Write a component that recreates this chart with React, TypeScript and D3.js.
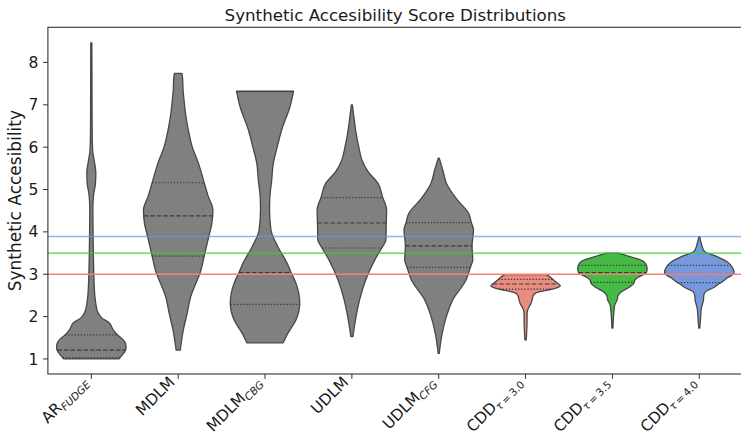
import * as d3 from "d3";

// ── Layout ──────────────────────────────────────────────────────────────
const W = 741;
const H = 435;
const PLOT = { left: 47.9, right: 742.7, top: 27.3, bottom: 374 };
const FONT = "DejaVu Sans, Liberation Sans, sans-serif";
const EDGE = "#474747";

// ── Data ────────────────────────────────────────────────────────────────
const CATEGORIES = ["AR_FUDGE", "MDLM", "MDLM_CBG", "UDLM", "UDLM_CFG", "CDD_3.0", "CDD_3.5", "CDD_4.0"];
const TICK_MAIN = ["AR", "MDLM", "MDLM", "UDLM", "UDLM", "CDD", "CDD", "CDD"];
const TICK_SUB = ["FUDGE", "", "CBG", "", "CFG", "τ\u2009=\u20093.0", "τ\u2009=\u20093.5", "τ\u2009=\u20094.0"];
const Y_TICKS = [1, 2, 3, 4, 5, 6, 7, 8];

// density profiles: [score, relative half-width]
const AR_FUDGE = [
  [1.0, 0.79], [1.1, 0.9], [1.25, 1.0], [1.35, 0.99], [1.45, 0.92], [1.57, 0.75],
  [1.7, 0.62], [1.85, 0.52], [1.97, 0.3], [2.1, 0.19], [2.3, 0.13], [2.5, 0.1],
  [2.9, 0.075], [3.4, 0.06], [4.0, 0.05], [4.6, 0.045], [4.9, 0.07], [5.15, 0.12],
  [5.4, 0.13], [5.65, 0.09], [5.9, 0.04], [6.3, 0.025], [7.2, 0.02], [8.46, 0.015],
];
const MDLM = [
  [1.21, 0.06], [1.69, 0.15], [2.08, 0.26], [2.47, 0.36], [2.75, 0.49], [3.03, 0.63],
  [3.43, 0.75], [3.89, 0.88], [4.2, 0.97], [4.52, 1.0], [4.85, 0.86], [5.16, 0.75],
  [5.63, 0.58], [6.02, 0.4], [6.41, 0.29], [6.8, 0.21], [7.1, 0.17], [7.36, 0.14],
  [7.6, 0.13], [7.74, 0.11],
];
const MDLM_CBG = [
  [1.38, 0.52], [1.61, 0.66], [1.92, 0.89], [2.32, 1.0], [2.79, 0.89], [3.04, 0.75],
  [3.27, 0.63], [3.65, 0.37], [4.05, 0.17], [4.52, 0.13], [4.84, 0.14], [5.2, 0.19],
  [5.63, 0.24], [6.0, 0.35], [6.41, 0.48], [6.96, 0.72], [7.32, 0.82],
];
const UDLM = [
  [1.53, 0.03], [2.0, 0.12], [2.39, 0.22], [2.87, 0.4], [3.34, 0.66], [3.62, 0.86],
  [3.81, 0.98], [4.21, 0.99], [4.52, 1.0], [4.81, 0.89], [5.15, 0.75], [5.43, 0.46],
  [5.7, 0.29], [6.0, 0.2], [6.34, 0.12], [6.7, 0.06], [7.0, 0.015],
];
const UDLM_CFG = [
  [1.13, 0.015], [1.61, 0.1], [2.0, 0.22], [2.39, 0.4], [2.87, 0.79], [3.16, 0.91],
  [3.34, 0.98], [3.67, 0.96], [4.05, 1.0], [4.22, 0.94], [4.44, 0.86], [4.76, 0.53],
  [5.15, 0.22], [5.45, 0.12], [5.74, 0.015],
];
const CDD_30 = [
  [1.45, 0.02], [1.8, 0.04], [2.1, 0.045], [2.2, 0.08], [2.3, 0.15], [2.4, 0.19],
  [2.5, 0.22], [2.56, 0.3], [2.62, 0.6], [2.68, 0.9], [2.73, 1.0], [2.8, 0.9],
  [2.88, 0.78], [2.95, 0.68], [2.99, 0.6],
];
const CDD_35 = [
  [1.73, 0.015], [2.14, 0.045], [2.27, 0.065], [2.39, 0.135], [2.49, 0.16], [2.58, 0.25],
  [2.68, 0.46], [2.78, 0.61], [2.87, 0.65], [2.95, 0.79], [3.03, 0.97], [3.13, 1.0],
  [3.26, 0.95], [3.34, 0.8], [3.42, 0.48], [3.5, 0.17],
];
const CDD_40 = [
  [1.73, 0.015], [2.0, 0.04], [2.2, 0.06], [2.39, 0.12], [2.5, 0.13], [2.59, 0.18],
  [2.68, 0.4], [2.75, 0.52], [2.8, 0.62], [2.91, 0.8], [3.03, 1.0], [3.18, 0.94],
  [3.3, 0.79], [3.42, 0.5], [3.54, 0.15], [3.69, 0.07], [3.89, 0.015],
];
const PROFILES = [AR_FUDGE, MDLM, MDLM_CBG, UDLM, UDLM_CFG, CDD_30, CDD_35, CDD_40];

// [Q1, median, Q3]
const QUARTILES = [
  [1.03, 1.21, 1.57],
  [3.43, 4.38, 5.16],
  [2.29, 3.04, 7.31],
  [3.62, 4.21, 4.81],
  [3.16, 3.67, 4.22],
  [2.65, 2.77, 2.88],
  [2.81, 3.04, 3.21],
  [2.8, 3.0, 3.21],
];

const FILLS = ["#808080", "#808080", "#808080", "#808080", "#808080", "#e98c81", "#45ba45", "#7599dc"];

// horizontal reference lines
const REF_VALUES = [3.89, 3.5, 3.0];
const REF_COLORS = ["#6495ed", "#32cd32", "#fa8072"];
const REF_OPACITY = [0.7, 0.9, 1];
const REF_WIDTH = [1.6, 1.2, 1.3];

export default function App() {
  const x = d3.scaleBand<string>().domain(CATEGORIES).range([PLOT.left, PLOT.right]).padding(0);
  const y = d3.scaleLinear().domain([0.645, 8.83]).range([PLOT.bottom, PLOT.top]);
  const halfW = d3.scaleLinear().domain([0, 1]).range([0, x.bandwidth() * 0.4]);

  const violins = CATEGORIES.map((cat, i) => {
    const cx = (x(cat) ?? 0) + x.bandwidth() / 2;
    const prof = PROFILES[i];
    const area = d3
      .area<number[]>()
      .curve(d3.curveMonotoneY)
      .y((d) => y(d[0]))
      .x0((d) => cx - halfW(d[1]))
      .x1((d) => cx + halfW(d[1]));
    const widthAt = d3
      .scaleLinear()
      .domain(prof.map((p) => p[0]))
      .range(prof.map((p) => p[1]))
      .clamp(true);
    return { cat, cx, path: area(prof) ?? "", widthAt, q: QUARTILES[i], fill: FILLS[i] };
  });

  const tickFs = 15.5;
  const subFs = 10.5;

  return (
    <svg
      width={W}
      height={H}
      viewBox={`0 0 ${W} ${H}`}
      style={{ position: "absolute", left: 0, top: 0, background: "#fff" }}
      fontFamily={FONT}
    >
      <rect x={0} y={0} width={W} height={H} fill="#fff" />

      {/* ── Violins ── */}
      {violins.map((v) => (
        <g key={v.cat}>
          <path d={v.path} fill={v.fill} stroke={EDGE} strokeWidth={1.3} strokeLinejoin="round" />
          {v.q.map((qv, j) => {
            const hw = halfW(v.widthAt(qv));
            return (
              <line
                key={j}
                x1={v.cx - hw}
                x2={v.cx + hw}
                y1={y(qv)}
                y2={y(qv)}
                stroke="#3a3a3a"
                strokeWidth={1.2}
                strokeDasharray={j === 1 ? "4.5,2" : "1.3,1.8"}
              />
            );
          })}
        </g>
      ))}

      {/* ── Reference lines ── */}
      {REF_VALUES.map((rv, i) => (
        <line
          key={rv}
          x1={PLOT.left}
          x2={PLOT.right}
          y1={y(rv)}
          y2={y(rv)}
          stroke={REF_COLORS[i]}
          strokeOpacity={REF_OPACITY[i]}
          strokeWidth={REF_WIDTH[i]}
        />
      ))}

      {/* ── Frame ── */}
      <rect
        x={PLOT.left}
        y={PLOT.top}
        width={PLOT.right - PLOT.left}
        height={PLOT.bottom - PLOT.top}
        fill="none"
        stroke="#333"
        strokeWidth={1.1}
      />

      {/* ── Y axis ── */}
      {Y_TICKS.map((t) => (
        <g key={t}>
          <line x1={PLOT.left - 4.9} x2={PLOT.left} y1={y(t)} y2={y(t)} stroke="#333" strokeWidth={1} />
          <text
            x={PLOT.left - 9.5}
            y={y(t)}
            dy="0.36em"
            textAnchor="end"
            fontSize={tickFs}
            fill="#1a1a1a"
          >
            {t}
          </text>
        </g>
      ))}
      <text
        transform={`translate(21,${(PLOT.top + PLOT.bottom) / 2}) rotate(-90)`}
        textAnchor="middle"
        fontSize={17}
        fill="#1a1a1a"
      >
        Synthetic Accesibility
      </text>

      {/* ── X axis ── */}
      {CATEGORIES.map((cat, i) => {
        const cx = (x(cat) ?? 0) + x.bandwidth() / 2;
        const sub = TICK_SUB[i];
        const isTau = sub.startsWith("τ");
        return (
          <g key={cat}>
            <line x1={cx} x2={cx} y1={PLOT.bottom} y2={PLOT.bottom + 4.9} stroke="#333" strokeWidth={1} />
            <text
              transform={`translate(${cx - 2.5},${PLOT.bottom + 9}) rotate(-45)`}
              textAnchor="end"
              fontSize={tickFs}
              fill="#1a1a1a"
            >
              {TICK_MAIN[i]}
              {sub && !isTau && (
                <tspan fontSize={subFs} fontStyle="italic" dy={3.2}>
                  {sub}
                </tspan>
              )}
              {isTau && (
                <>
                  <tspan fontSize={subFs} fontStyle="italic" dy={3.2}>
                    τ
                  </tspan>
                  <tspan fontSize={subFs}>{sub.slice(1)}</tspan>
                </>
              )}
            </text>
          </g>
        );
      })}

      {/* ── Title ── */}
      <text x={(PLOT.left + PLOT.right) / 2} y={21} textAnchor="middle" fontSize={16.7} fill="#1a1a1a">
        Synthetic Accesibility Score Distributions
      </text>
    </svg>
  );
}
